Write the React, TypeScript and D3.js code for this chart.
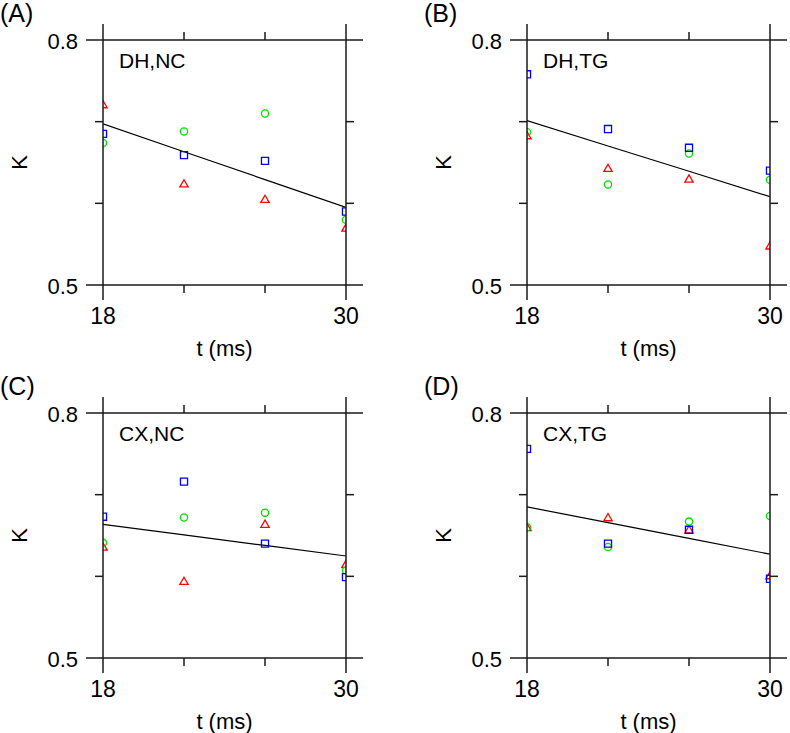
import React from "react";
import * as d3 from "d3";

const tValues = [18, 22, 26, 30];
const xTicksMinor = [22, 26];
const yTicksMinor = [0.7, 0.6];
const yLabels = [0.8, 0.5];
const xLabels = [18, 30];
const panelLetters = ["(A)", "(B)", "(C)", "(D)"];
const panelTitles = ["DH,NC", "DH,TG", "CX,NC", "CX,TG"];

// values per panel (red triangles, green circles, blue squares)
const redA = [0.720, 0.623, 0.604, 0.569];
const greenA = [0.674, 0.688, 0.710, 0.580];
const blueA = [0.685, 0.659, 0.652, 0.590];

const redB = [0.682, 0.642, 0.629, 0.547];
const greenB = [0.687, 0.623, 0.661, 0.629];
const blueB = [0.758, 0.691, 0.668, 0.640];

const redC = [0.635, 0.593, 0.663, 0.614];
const greenC = [0.641, 0.672, 0.678, 0.607];
const blueC = [0.673, 0.716, 0.640, 0.599];

const redD = [0.659, 0.671, 0.656, 0.600];
const greenD = [0.660, 0.636, 0.667, 0.674];
const blueD = [0.756, 0.640, 0.657, 0.597];

const panelData = [
  { red: redA, green: greenA, blue: blueA },
  { red: redB, green: greenB, blue: blueB },
  { red: redC, green: greenC, blue: blueC },
  { red: redD, green: greenD, blue: blueD },
];

const offsets = [
  [0, 0],
  [424, 0],
  [0, 373],
  [424, 373],
];

const FONT = "'Liberation Sans', Arial, Helvetica, sans-serif";

const x = d3.scaleLinear().domain([18, 30]).range([103, 346]);
const y = d3.scaleLinear().domain([0.5, 0.8]).range([285, 40]);

function fit(d: { red: number[]; green: number[]; blue: number[] }) {
  const pts: [number, number][] = [];
  [d.red, d.green, d.blue].forEach((s) =>
    s.forEach((v, i) => pts.push([tValues[i], v]))
  );
  const mx = d3.mean(pts, (p) => p[0]) as number;
  const my = d3.mean(pts, (p) => p[1]) as number;
  let sxy = 0,
    sxx = 0;
  pts.forEach(([a, b]) => {
    sxy += (a - mx) * (b - my);
    sxx += (a - mx) * (a - mx);
  });
  const slope = sxy / sxx;
  return (t: number) => my + slope * (t - mx);
}

const triPath = d3.symbol().type(d3.symbolTriangle).size(30)() as string;
const sqPath = d3.symbol().type(d3.symbolSquare).size(50)() as string;

function Panel({ idx }: { idx: number }) {
  const [ox, oy] = offsets[idx];
  const d = panelData[idx];
  const f = fit(d);
  const line = d3
    .line<number>()
    .x((t) => x(t))
    .y((t) => y(f(t)));
  const x0 = x(18),
    x1 = x(30),
    yTop = y(0.8),
    yBot = y(0.5);
  const ax = "#1a1a1a";
  const clipId = `clip${idx}`;
  return (
    <g transform={`translate(${ox},${oy})`}>
      <defs>
        <clipPath id={clipId}>
          <rect x={x0} y={yTop} width={x1 - x0} height={yBot - yTop} />
        </clipPath>
      </defs>
      <text x={0} y={22} fontSize={25} fontFamily={FONT}>
        {panelLetters[idx]}
      </text>
      <g clipPath={`url(#${clipId})`}>
        <path d={line(tValues) || ""} stroke="#000" strokeWidth={1.2} fill="none" />
        {d.red.map((v, i) => (
          <path
            key={`r${i}`}
            d={triPath}
            transform={`translate(${x(tValues[i])},${y(v)})`}
            fill="none"
            stroke="#ff0000"
            strokeWidth={1.3}
          />
        ))}
        {d.green.map((v, i) => (
          <circle
            key={`g${i}`}
            cx={x(tValues[i])}
            cy={y(v)}
            r={3.6}
            fill="none"
            stroke="#00e000"
            strokeWidth={1.3}
          />
        ))}
        {d.blue.map((v, i) => (
          <path
            key={`b${i}`}
            d={sqPath}
            transform={`translate(${x(tValues[i])},${y(v)})`}
            fill="none"
            stroke="#0000ff"
            strokeWidth={1.3}
          />
        ))}
      </g>
      {/* frame lines, extended */}
      <g stroke={ax} strokeWidth={1.5}>
        <line x1={x0 - 17} x2={x1 + 17} y1={yTop} y2={yTop} />
        <line x1={x0 - 17} x2={x1 + 17} y1={yBot} y2={yBot} />
        <line x1={x0} x2={x0} y1={yTop - 16} y2={yBot + 15} />
        <line x1={x1} x2={x1} y1={yTop - 16} y2={yBot + 15} />
        {xTicksMinor.map((t) => (
          <g key={`xt${t}`}>
            <line x1={x(t)} x2={x(t)} y1={yTop - 8} y2={yTop} />
            <line x1={x(t)} x2={x(t)} y1={yBot} y2={yBot + 8} />
          </g>
        ))}
        {yTicksMinor.map((v) => (
          <g key={`yt${v}`}>
            <line x1={x0 - 8} x2={x0} y1={y(v)} y2={y(v)} />
            <line x1={x1} x2={x1 + 8} y1={y(v)} y2={y(v)} />
          </g>
        ))}
      </g>
      {yLabels.map((v) => (
        <text
          key={`yl${v}`}
          x={78}
          y={y(v) + 9}
          fontSize={22}
          fontFamily={FONT}
          textAnchor="end"
        >
          {v.toFixed(1)}
        </text>
      ))}
      {xLabels.map((t) => (
        <text
          key={`xl${t}`}
          x={x(t)}
          y={324}
          fontSize={23}
          fontFamily={FONT}
          textAnchor="middle"
        >
          {t}
        </text>
      ))}
      <text
        x={(x0 + x1) / 2}
        y={356}
        fontSize={22}
        fontFamily={FONT}
        textAnchor="middle"
      >
        t (ms)
      </text>
      <text
        transform={`translate(27,${(yTop + yBot) / 2}) rotate(-90)`}
        fontSize={22}
        fontFamily={FONT}
        textAnchor="middle"
      >
        K
      </text>
      <text x={x0 + 16} y={68} fontSize={21} fontFamily={FONT}>
        {panelTitles[idx]}
      </text>
    </g>
  );
}

export default function App() {
  return (
    <svg
      width={790}
      height={733}
      style={{ position: "absolute", left: 0, top: 0, background: "#fff" }}
    >
      <rect width={790} height={733} fill="#fff" />
      {[0, 1, 2, 3].map((i) => (
        <Panel key={i} idx={i} />
      ))}
    </svg>
  );
}
